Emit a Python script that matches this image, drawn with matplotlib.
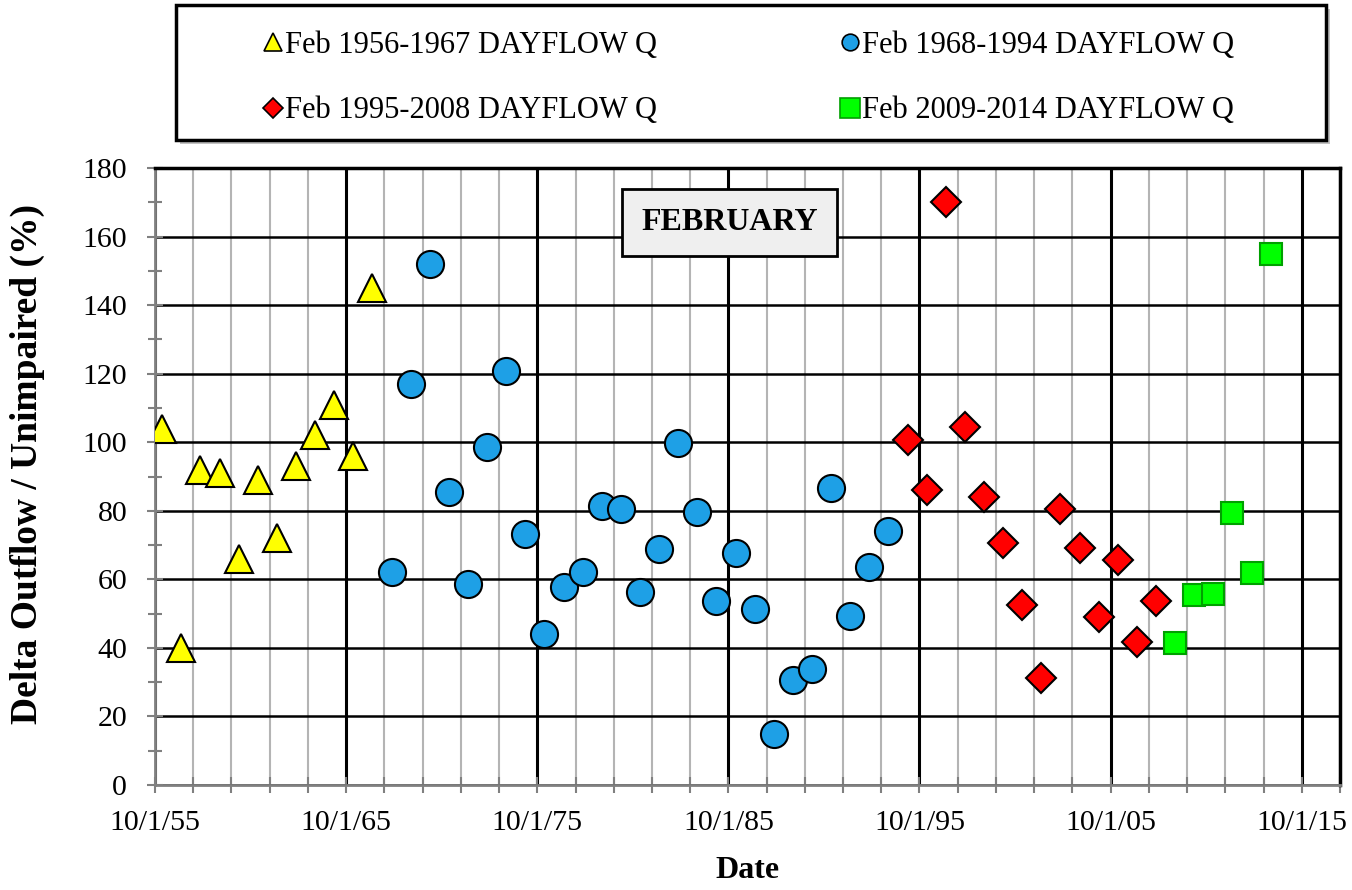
import numpy as np
import matplotlib
matplotlib.use("Agg")
import matplotlib.pyplot as plt
import matplotlib.dates as mdates
from matplotlib.lines import Line2D
from matplotlib.patches import Rectangle
from matplotlib.ticker import FixedLocator, FuncFormatter, MultipleLocator
from datetime import datetime

plt.rcParams['font.family'] = ['Liberation Serif', 'DejaVu Serif']

# February outflow / unimpaired ratio (%) by water year
yrs_56_67 = list(range(1956, 1968))
pct_56_67 = [104, 40, 92, 91, 66, 89, 72, 93, 102, 111, 96, 145]

yrs_68_94 = list(range(1968, 1995))
pct_68_94 = [62, 117, 152, 85.5, 58.6, 98.6, 120.8, 73.2, 44, 57.8, 62, 81.4, 80.5,
             56.3, 68.8, 99.8, 79.6, 53.7, 67.7, 51.3, 15, 30.6, 33.8, 86.6, 49.3,
             63.6, 74.1]

yrs_95_08 = list(range(1995, 2009))
pct_95_08 = [100.6, 86, 170, 104.4, 84, 70.6, 52.5, 31.2, 80.5, 69.1, 49, 65.6, 41.7, 53.7]

yrs_09_14 = list(range(2009, 2015))
pct_09_14 = [41.4, 55.4, 55.7, 79.3, 61.8, 154.9]

labels = ['Feb 1956-1967 DAYFLOW Q', 'Feb 1968-1994 DAYFLOW Q',
          'Feb 1995-2008 DAYFLOW Q', 'Feb 2009-2014 DAYFLOW Q']


def feb(years):
    return np.array([f"{y}-02-15" for y in years], dtype='datetime64[D]')


fig = plt.figure(figsize=(13.52, 8.90), dpi=100)
ax = fig.add_axes([155/1352, 105/890, 1185/1352, 617/890])

ax.plot(feb(yrs_56_67), pct_56_67, ls='none', marker='^', ms=20, mfc='#ffff00',
        mec='black', mew=1.5, zorder=5)
ax.plot(feb(yrs_68_94), pct_68_94, ls='none', marker='o', ms=19.5, mfc='#1ea0e6',
        mec='black', mew=1.5, zorder=5)
ax.plot(feb(yrs_95_08), pct_95_08, ls='none', marker='D', ms=15.5, mfc='#ff0000',
        mec='black', mew=1.5, zorder=5)
ax.plot(feb(yrs_09_14), pct_09_14, ls='none', marker='s', ms=16.5, mfc='#00ff00',
        mec='#00a000', mew=1.5, zorder=5)

ax.set_xlim(mdates.date2num(datetime(1955, 10, 1)), mdates.date2num(datetime(2017, 10, 1)))
ax.set_ylim(0, 180)

major = [mdates.date2num(datetime(y, 10, 1)) for y in range(1955, 2016, 10)]
minor = [mdates.date2num(datetime(y, 10, 1)) for y in range(1955, 2018, 2)]
ax.xaxis.set_major_locator(FixedLocator(major))
ax.xaxis.set_minor_locator(FixedLocator(minor))
ax.xaxis.set_major_formatter(FuncFormatter(
    lambda v, p: (lambda d: f"{d.month}/{d.day}/{d:%y}")(mdates.num2date(v))))
ax.yaxis.set_major_locator(MultipleLocator(20))
ax.yaxis.set_minor_locator(MultipleLocator(10))

ax.set_axisbelow(True)
ax.grid(axis='x', which='minor', color='#b4b4b4', lw=1.5)
ax.grid(axis='y', which='major', color='black', lw=1.8)
ax.grid(axis='x', which='major', color='black', lw=2.2)

for s in ['left', 'bottom']:
    ax.spines[s].set_color('#808080')
    ax.spines[s].set_linewidth(2)
for s in ['top', 'right']:
    ax.spines[s].set_color('black')
    ax.spines[s].set_linewidth(2.5)

ax.tick_params(axis='both', which='both', direction='inout', color='#808080', width=1.5)
ax.tick_params(axis='y', which='major', length=12, pad=14, labelsize=21.5)
ax.tick_params(axis='y', which='minor', length=10)
ax.tick_params(axis='x', which='both', length=12, pad=12, labelsize=21.5)

ax.set_xlabel('Date', fontsize=23, fontweight='bold')
ax.xaxis.set_label_coords(0.5, -0.115)
ax.set_ylabel('Delta Outflow / Unimpaired (%)', fontsize=27, fontweight='bold')
ax.yaxis.set_label_coords(-0.093, 0.52)

ax.text(0.485, 0.912, 'FEBRUARY', transform=ax.transAxes, ha='center', va='center',
        fontsize=23, fontweight='bold', zorder=6,
        bbox=dict(boxstyle='square,pad=0.6', fc='#efefef', ec='black', lw=2))

# legend box with shadow
fig.patches.append(Rectangle((180/1352, 1 - 144/890), 1150/1352, 135/890,
                             transform=fig.transFigure, fc='#9a9a9a', ec='none',
                             alpha=0.6, zorder=0))
fig.patches.append(Rectangle((176/1352, 1 - 140/890), 1150/1352, 135/890,
                             transform=fig.transFigure, fc='white', ec='black',
                             lw=2.5, zorder=1))

handles = [
    Line2D([], [], ls='none', marker='^', ms=13, mfc='#ffff00', mec='black', mew=1.2),
    Line2D([], [], ls='none', marker='o', ms=12, mfc='#1ea0e6', mec='black', mew=1.2),
    Line2D([], [], ls='none', marker='D', ms=10, mfc='#ff0000', mec='black', mew=1.2),
    Line2D([], [], ls='none', marker='s', ms=14, mfc='#00ff00', mec='#00a000', mew=1.2),
]
# legend fills column by column; reorder so rows read left to right
order = [0, 2, 1, 3]
fig.legend([handles[i] for i in order], [labels[i] for i in order], ncol=2, loc='center',
           bbox_to_anchor=(749/1352, 1 - 78/890),
           frameon=False, fontsize=22, handlelength=0.6, handletextpad=0.1,
           columnspacing=6.0, labelspacing=1.2)

fig.savefig('out.png', dpi=100, facecolor='white')
